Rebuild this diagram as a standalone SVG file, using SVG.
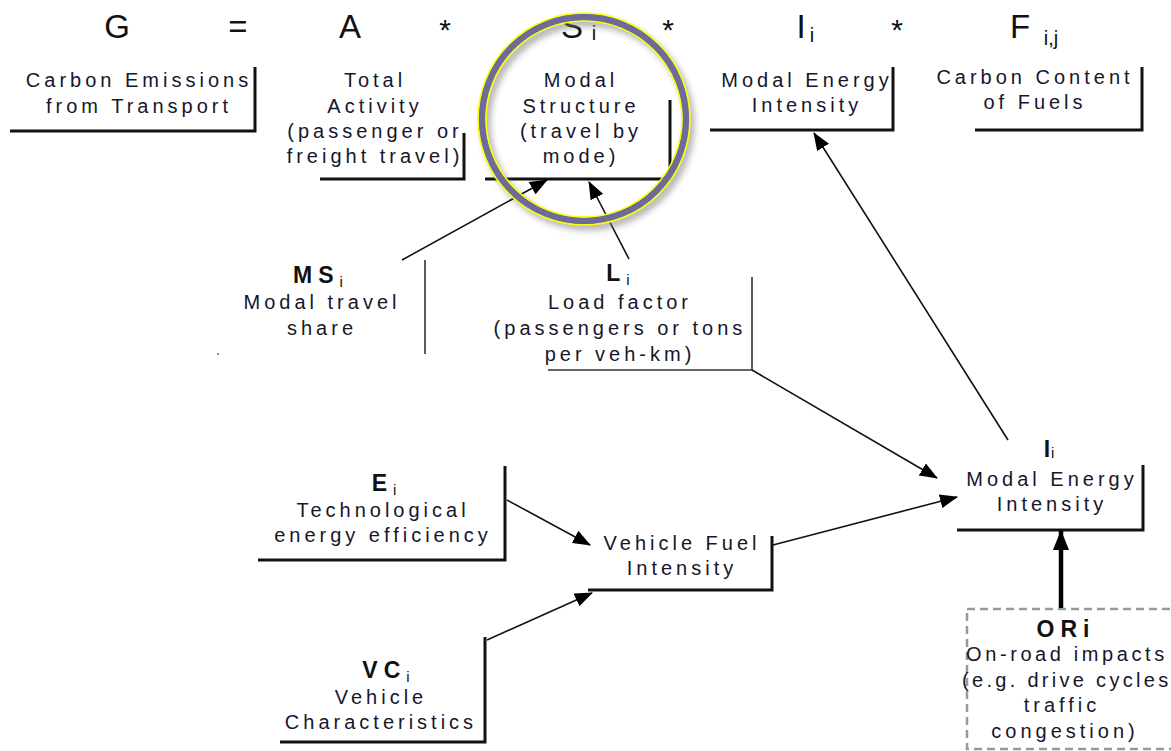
<svg xmlns="http://www.w3.org/2000/svg" width="1171" height="751" viewBox="0 0 1171 751">
<style>
.t{font-family:"Liberation Sans",Arial,sans-serif;font-size:20px;letter-spacing:4px;fill:#16162c;text-anchor:middle}
.b{font-family:"Liberation Sans",Arial,sans-serif;font-size:23px;font-weight:bold;letter-spacing:6px;fill:#111;text-anchor:middle}
.s{font-size:15px;font-weight:normal;letter-spacing:0}
.eq{font-family:"Liberation Sans",Arial,sans-serif;font-size:33px;fill:#111;text-anchor:middle}
.ast{font-size:30px}
.br{fill:none;stroke:#111;stroke-width:3}
.brt{fill:none;stroke:#333;stroke-width:1.6}
.c{fill:none;stroke:#111;stroke-width:1.6}
</style>
<defs>
<marker id="ah" markerUnits="userSpaceOnUse" markerWidth="18" markerHeight="14" refX="17" refY="7" orient="auto">
<path d="M0,0 L18,7 L0,14 z" fill="#000"/>
</marker>
<marker id="ahb" markerUnits="userSpaceOnUse" markerWidth="20" markerHeight="16" refX="19" refY="8" orient="auto">
<path d="M0,0 L20,8 L0,16 z" fill="#000"/>
</marker>
<filter id="sh" x="-20%" y="-20%" width="140%" height="140%">
<feGaussianBlur stdDeviation="3"/>
</filter>
</defs>
<rect width="1171" height="751" fill="#fff"/>

<g id="equation">
<text class="eq" x="117" y="38">G</text>
<text class="eq" x="238" y="38">=</text>
<text class="eq" x="350" y="38">A</text>
<text class="eq ast" x="445" y="40">*</text>
<text class="eq" x="572" y="38">S</text>
<text class="eq" x="594" y="40" style="font-size:20px">i</text>
<text class="eq ast" x="668" y="40">*</text>
<text class="eq" x="801" y="38">I</text>
<text class="eq" x="812" y="42" style="font-size:20px">i</text>
<text class="eq ast" x="897" y="40">*</text>
<text class="eq" x="1020" y="38">F</text>
<text class="eq" x="1051" y="45" style="font-size:20px">i,j</text>
</g>

<g id="carbon-emissions">
<text class="t" x="139" y="87">Carbon Emissions</text>
<text class="t" x="139" y="113">from Transport</text>
<path class="br" d="M255,67 V131 H10"/>
</g>

<g id="total-activity">
<text class="t" x="375" y="87">Total</text>
<text class="t" x="375" y="113">Activity</text>
<text class="t" x="375" y="138">(passenger or</text>
<text class="t" x="375" y="163">freight travel)</text>
<path class="br" d="M464,133 V179 H320"/>
</g>

<g id="modal-structure">
<text class="t" x="581" y="87">Modal</text>
<text class="t" x="581" y="113">Structure</text>
<text class="t" x="581" y="138">(travel by</text>
<text class="t" x="581" y="163">mode)</text>
<path class="br" d="M670,100 V179 H485"/>
</g>

<g id="modal-energy-top">
<text class="t" x="807" y="87">Modal Energy</text>
<text class="t" x="807" y="112">Intensity</text>
<path class="br" d="M893,67 V130 H710"/>
</g>

<g id="carbon-content">
<text class="t" x="1035" y="84">Carbon Content</text>
<text class="t" x="1035" y="109">of Fuels</text>
<path class="br" d="M1142,67 V130 H975"/>
</g>

<g id="ms">
<text class="b" x="318" y="283">MS<tspan class="s" dy="4">i</tspan></text>
<text class="t" x="322" y="309">Modal travel</text>
<text class="t" x="322" y="335">share</text>
<path class="brt" d="M425,260 V354"/>
<circle cx="218" cy="354" r="0.9" fill="#555"/>
</g>

<g id="load-factor">
<text class="b" x="618" y="281">L<tspan class="s" dy="4">i</tspan></text>
<text class="t" x="620" y="309">Load factor</text>
<text class="t" x="620" y="335">(passengers or tons</text>
<text class="t" x="620" y="361">per veh-km)</text>
<path class="brt" d="M752,277 V370 H548" stroke="#555"/>
</g>

<g id="modal-energy-bottom">
<text class="b" x="1049" y="457" style="letter-spacing:1px">I<tspan class="s" dy="1">i</tspan></text>
<text class="t" x="1052" y="486">Modal Energy</text>
<text class="t" x="1052" y="511">Intensity</text>
<path class="br" d="M1143,465 V530 H957"/>
</g>

<g id="tech-efficiency">
<text class="b" x="384" y="491">E<tspan class="s" dy="4">i</tspan></text>
<text class="t" x="383" y="517">Technological</text>
<text class="t" x="383" y="542">energy efficiency</text>
<path class="br" d="M505,466 V560 H258"/>
</g>

<g id="vehicle-char">
<text class="b" x="386" y="678">VC<tspan class="s" dy="4">i</tspan></text>
<text class="t" x="381" y="704">Vehicle</text>
<text class="t" x="381" y="729">Characteristics</text>
<path class="br" d="M485,637 V742 H280"/>
</g>

<g id="vehicle-fuel">
<text class="t" x="682" y="550">Vehicle Fuel</text>
<text class="t" x="682" y="575">Intensity</text>
<path class="br" d="M772,536 V590 H588"/>
</g>

<g id="ori">
<rect x="967" y="609" width="230" height="140" fill="none" stroke="#999" stroke-width="2.5" stroke-dasharray="8,5"/>
<text class="b" x="1066" y="637">ORi</text>
<text class="t" x="966" y="661" style="text-anchor:start;letter-spacing:3.6px">On-road impacts</text>
<text class="t" x="962" y="687" style="text-anchor:start;letter-spacing:3.3px">(e.g. drive cycles</text>
<text class="t" x="1062" y="712">traffic</text>
<text class="t" x="1065" y="738">congestion)</text>
</g>

<g id="connectors">
<line class="c" x1="402" y1="260" x2="547" y2="180" marker-end="url(#ah)"/>
<line class="c" x1="629" y1="259" x2="589" y2="182" marker-end="url(#ah)"/>
<line class="c" x1="752" y1="370" x2="937" y2="478" marker-end="url(#ah)"/>
<line class="c" x1="1008" y1="440" x2="814" y2="133" marker-end="url(#ah)"/>
<line class="c" x1="507" y1="500" x2="590" y2="545" marker-end="url(#ah)"/>
<line class="c" x1="487" y1="640" x2="592" y2="593" marker-end="url(#ah)"/>
<line class="c" x1="773" y1="545" x2="957" y2="497" marker-end="url(#ah)"/>
<line x1="1061" y1="608" x2="1061" y2="531" stroke="#000" stroke-width="4.5" marker-end="url(#ahb)"/>
</g>

<g id="highlight">
<circle cx="588" cy="124" r="102" fill="none" stroke="#777" stroke-width="9" opacity="0.55" filter="url(#sh)"/>
<circle cx="584" cy="119" r="102" fill="none" stroke="#6b6b9c" stroke-width="7"/>
<circle cx="584" cy="119" r="106" fill="none" stroke="#ffff00" stroke-width="1.6"/>
<circle cx="584" cy="119" r="98" fill="none" stroke="#ffff00" stroke-width="1.6"/>
</g>
</svg>
